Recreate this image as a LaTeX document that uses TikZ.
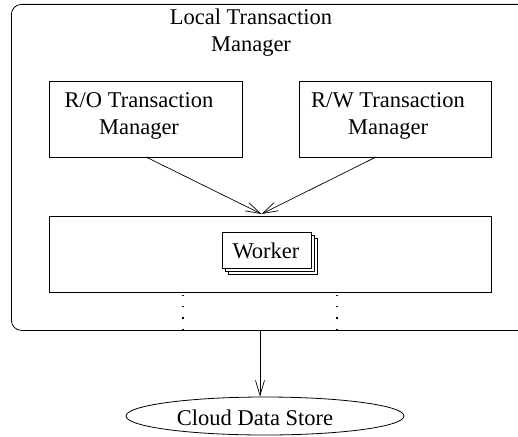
\documentclass[tikz,border=0pt]{standalone}
\usepackage{fontspec}
\setmainfont{Liberation Serif}
\usetikzlibrary{arrows.meta,shapes.geometric}
\begin{document}
\begin{tikzpicture}[x=1pt,y=-1pt,
  every node/.style={font=\fontsize{22.5}{27}\selectfont, inner sep=0pt},
  box/.style={draw, line width=0.8pt, anchor=north west},
  arr/.style={line width=0.7pt, -{Straight Barb[length=15pt,width=9pt,line width=0.7pt]}},
  txt/.style={align=center}]
\useasboundingbox (0,0) rectangle (518,436);
\clip (0,0) rectangle (518,436);
% outer local transaction manager
\node[box, rounded corners=10pt, minimum width=540pt, minimum height=326pt] (ltm) at (11,4) {};
\node[txt] (ltmlabel) at (251,33) {Local Transaction\\Manager};
% R/O and R/W managers
\node[box, minimum width=193pt, minimum height=76pt] (ro) at (49,81) {};
\node[txt] (rolabel) at (139,116) {R/O Transaction\\Manager};
\node[box, minimum width=192pt, minimum height=76pt] (rw) at (299,81) {};
\node[txt] (rwlabel) at (388,116) {R/W Transaction\\Manager};
% worker container
\node[box, minimum width=442pt, minimum height=76pt] (wc) at (49,216) {};
\node[box, fill=white, minimum width=89pt, minimum height=36pt] (w3) at (228,238) {};
\node[box, fill=white, minimum width=89pt, minimum height=36pt] (w2) at (225,235) {};
\node[box, fill=white, minimum width=89pt, minimum height=36pt] (w1) at (222,232) {};
\node (wlabel) at (266,251) {Worker};
% arrows into worker container
\coordinate (rostart) at (146,157);
\coordinate (rwstart) at (376,157);
\coordinate (wtarget) at (261.5,214);
\draw[arr] (rostart) -- (wtarget);
\draw[arr] (rwstart) -- (wtarget);
% dotted lines
\coordinate (d1a) at (183,295);
\coordinate (d1b) at (183,330);
\coordinate (d2a) at (337,295);
\coordinate (d2b) at (337,330);
\draw[line width=1.2pt, dash pattern=on 1.2pt off 10pt] (d1a) -- (d1b);
\draw[line width=1.2pt, dash pattern=on 1.2pt off 10pt] (d2a) -- (d2b);
% cloud data store
\node[draw, ellipse, line width=0.8pt, minimum width=278pt, minimum height=38pt] (cds) at (265,416) {};
\node (cdslabel) at (255,418) {Cloud Data Store};
\coordinate (arrtop) at (260,330);
\draw[arr] (arrtop) -- (arrtop |- cds.north);
\end{tikzpicture}
\end{document}
